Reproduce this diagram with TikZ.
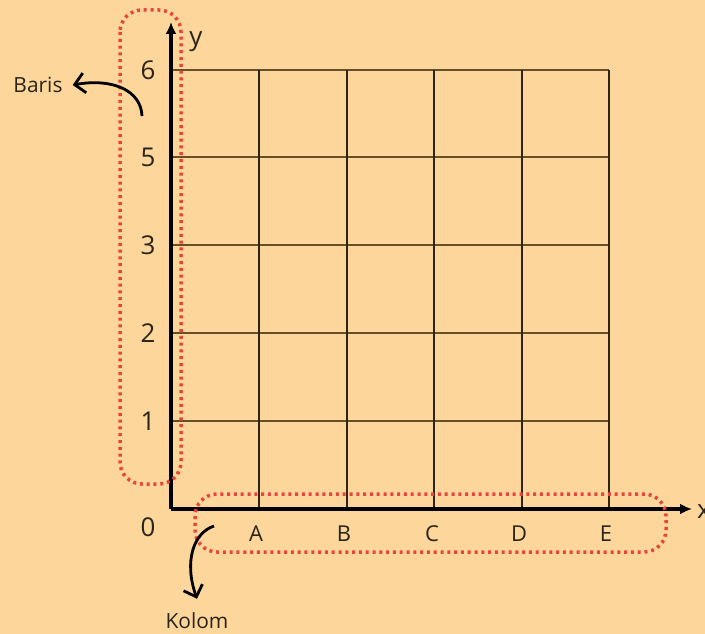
\documentclass[tikz,border=0pt]{standalone}
\usepackage{fontspec}
\setmainfont{Open Sans}
\usetikzlibrary{arrows.meta}
\definecolor{bg}{HTML}{FDD69B}
\definecolor{dotred}{HTML}{E8453C}
\definecolor{hline}{HTML}{65502A}
\definecolor{vline}{HTML}{2E2418}
\definecolor{ink}{HTML}{2A2418}
\tikzset{
  axis/.style={line width=3.2bp, draw=black, -{Latex[length=12bp,width=11bp]}},
  hgrid/.style={line width=2.4bp, draw=hline},
  vgrid/.style={line width=1.7bp, draw=vline},
  dotbox/.style={draw=dotred, line width=3.5bp, dash pattern=on 3bp off 3.8bp, rounded corners=22bp},
  curvearrow/.style={line width=2.8bp, draw=black, -{Straight Barb[length=10bp,width=20bp,line width=2.8bp]}},
  num/.style={font=\fontsize{26}{26}\selectfont, text=ink, inner sep=0pt},
  lettxt/.style={font=\fontsize{22}{22}\selectfont, text=ink, inner sep=0pt},
  note/.style={font=\fontsize{21}{21}\selectfont, text=ink, inner sep=0pt}
}
\begin{document}
\begin{tikzpicture}[x=1bp,y=-1bp]
\fill[bg] (0,0) rectangle (705,634);
\useasboundingbox (0,0) rectangle (705,634);
% grid
\foreach \yy in {70,157,245,333,421}
  \draw[hgrid] (171,\yy) -- (609,\yy);
\foreach \xx in {259,347,434,522,609}
  \draw[vgrid] (\xx,70) -- (\xx,509);
% axes
\coordinate (O) at (171,509);
\coordinate (ytip) at (171,22);
\coordinate (xtip) at (692,509);
\draw[axis] (O) -- (ytip);
\draw[axis] (O) -- (xtip);
% labels
\node[num] (l6) at (148,70) {6};
\node[num] (l5) at (148,157) {5};
\node[num] (l3) at (148,245) {3};
\node[num] (l2) at (148,333) {2};
\node[num] (l1) at (148,421) {1};
\node[num] (l0) at (148,527) {0};
\node[num] (ly) at (196,42) {y};
\node[num,anchor=west] (lx) at (697,512) {x};
\node[lettxt] (lA) at (256,534) {A};
\node[lettxt] (lB) at (344,534) {B};
\node[lettxt] (lC) at (432,534) {C};
\node[lettxt] (lD) at (519,534) {D};
\node[lettxt] (lE) at (606,534) {E};
% dotted boxes
\draw[dotbox] (120,10) rectangle (181,484);
\draw[dotbox] (195,494) rectangle (666,552);
% notes
\node[note] (baris) at (38,85) {Baris};
\node[note] (kolom) at (197,621) {Kolom};
\coordinate (bs) at (142,116);
\coordinate (ks) at (214,526);
\draw[curvearrow] (bs) .. controls (141,90) and (112,78) .. ([xshift=10bp]baris.east);
\draw[curvearrow] (ks) .. controls (193,533) and (184,562) .. ([yshift=14bp]kolom.north);
\end{tikzpicture}
\end{document}
